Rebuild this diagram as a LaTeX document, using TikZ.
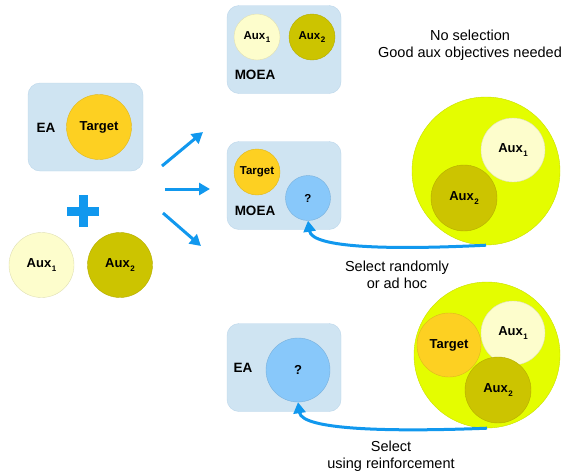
\documentclass[tikz,border=0pt]{standalone}
\usepackage{fontspec}
\setmainfont{Liberation Sans}
\usetikzlibrary{arrows.meta}
\definecolor{boxfill}{HTML}{CFE4F2}
\definecolor{boxline}{HTML}{BCD6EA}
\definecolor{targetc}{HTML}{FDD022}
\definecolor{auxone}{HTML}{FDFDCC}
\definecolor{auxtwo}{HTML}{CCC400}
\definecolor{bigc}{HTML}{E4FD00}
\definecolor{qc}{HTML}{88C8FA}
\definecolor{arrowc}{HTML}{1198EE}
\tikzset{
  algbox/.style = {draw=boxline, fill=boxfill, rounded corners=12pt,
                   minimum width=114pt, minimum height=88pt},
  obj/.style = {circle, draw=#1!88!black, fill=#1, inner sep=0pt,
                font=\bfseries\fontsize{11.5}{13}\selectfont},
  bigobj/.style = {font=\bfseries\fontsize{13}{15}\selectfont},
  lbl/.style = {font=\bfseries\fontsize{13.5}{15}\selectfont},
  note/.style = {align=center, font=\fontsize{14.5}{16.5}\selectfont},
  bluearrow/.style = {draw=arrowc, line width=3pt,
                      -{Triangle[length=11pt,width=12pt]}},
}
\newcommand{\aux}[1]{Aux\kern0.5pt\raisebox{-0.5ex}{\footnotesize #1}}
\begin{document}
\begin{tikzpicture}[x=1pt,y=-1pt]
  \useasboundingbox (0,0) rectangle (567,472);

  % left: EA with target, plus aux objectives
  \node[algbox, minimum width=115pt] (ea) at (85.5,127) {};
  \node[lbl] (eal) at (46,128) {EA};
  \node[obj=targetc, minimum size=65pt, bigobj] (t0) at (99,127) {Target};
  \draw[draw=arrowc, line width=9pt] (67,211) -- (99,211) (83,195) -- (83,227);
  \node[obj=auxone, minimum size=65pt, bigobj] (a1) at (41.5,265) {\aux{1}};
  \node[obj=auxtwo, minimum size=65pt, bigobj] (a2) at (120,265) {\aux{2}};

  % three arrows
  \coordinate (s1) at (162,166); \coordinate (e1) at (203,132);
  \coordinate (s2) at (165,189); \coordinate (e2) at (210,189);
  \coordinate (s3) at (163,213); \coordinate (e3) at (201,246);
  \draw[bluearrow] (s1) -- (e1);
  \draw[bluearrow] (s2) -- (e2);
  \draw[bluearrow] (s3) -- (e3);

  % top: MOEA, no selection
  \node[algbox] (moea1) at (284,49.5) {};
  \node[obj=auxone, minimum size=46pt] (b1) at (257,37) {\aux{1}};
  \node[obj=auxtwo, minimum size=46pt] (b2) at (312,37) {\aux{2}};
  \node[lbl] (moea1l) at (255,75) {MOEA};
  \node[note] (n1) at (470,45) {No selection\\Good aux objectives needed};

  % middle: MOEA, random selection
  \node[algbox] (moea2) at (284,185.5) {};
  \node[obj=targetc, minimum size=46pt] (t1) at (257,172) {Target};
  \node[obj=qc, minimum size=45pt] (q1) at (308,198) {?};
  \node[lbl] (moea2l) at (255,211) {MOEA};
  \node[obj=bigc, minimum size=148pt] (big1) at (486,171) {};
  \node[obj=auxone, minimum size=64pt, bigobj] (c1) at (513,150) {\aux{1}};
  \node[obj=auxtwo, minimum size=66pt, bigobj] (c2) at (464,198) {\aux{2}};
  \draw[bluearrow] (big1.south) .. controls (390,250) and (312,248) .. (q1.south);
  \node[note] (n2) at (397,275) {Select randomly\\or ad hoc};

  % bottom: EA, selection with reinforcement
  \node[algbox] (ea2) at (284,367.5) {};
  \node[lbl] (ea2l) at (243,368) {EA};
  \node[obj=qc, minimum size=64pt, bigobj] (q2) at (298,370) {?};
  \node[obj=bigc, minimum size=146pt] (big2) at (487,355) {};
  \node[obj=targetc, minimum size=64pt, bigobj] (t2) at (449,345) {Target};
  \node[obj=auxone, minimum size=64pt, bigobj] (d1) at (513,333) {\aux{1}};
  \node[obj=auxtwo, minimum size=66pt, bigobj] (d2) at (498,390) {\aux{2}};
  \draw[bluearrow] (big2.south) .. controls (390,432) and (302,430) .. (q2.south);
  \node[note] (n3) at (391,456) {Select\\using reinforcement};
\end{tikzpicture}
\end{document}
